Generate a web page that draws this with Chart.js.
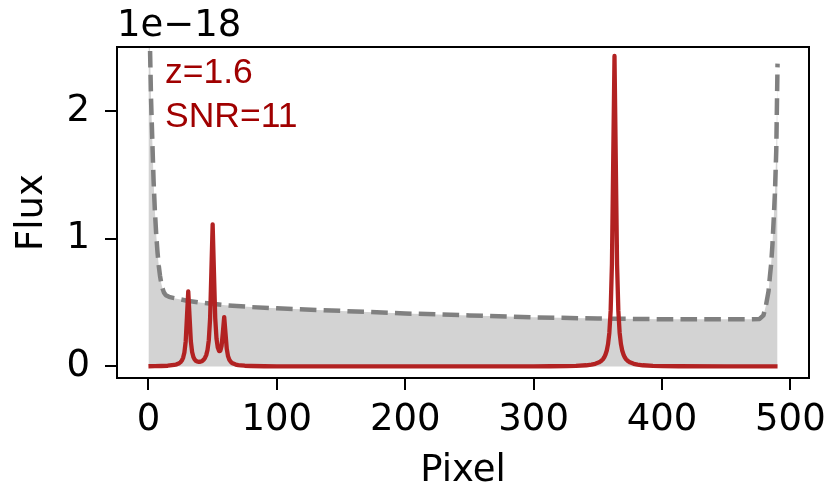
<!DOCTYPE html>
<html>
<head>
<meta charset="utf-8">
<script src="https://cdn.jsdelivr.net/npm/chart.js@4.4.1/dist/chart.umd.min.js"></script>
<style>
  html, body { margin: 0; padding: 0; background: #fff; }
  #wrap { width: 840px; height: 487px; }
</style>
</head>
<body>
<div id="wrap"><canvas id="c" width="840" height="487"></canvas></div>
<script>
// Flux values are in units of 1e-18.

// Noise level along the detector
const noisePixel = [0, 1, 2, 3, 4, 5, 6, 7, 8, 9, 10, 11, 12, 13, 14, 16, 20, 30, 40, 60, 80, 100,
  150, 200, 250, 300, 350, 400, 450, 470, 476, 479, 481, 483, 484, 485, 486, 487, 488, 489, 490];
const noiseFlux = [3.4, 2.6, 2.1, 1.77, 1.45, 1.22, 1.04, 0.9, 0.79, 0.71, 0.65, 0.61, 0.58, 0.565, 0.555,
  0.545, 0.535, 0.515, 0.5, 0.48, 0.465, 0.455, 0.435, 0.415, 0.4, 0.385, 0.375, 0.37, 0.37, 0.37,
  0.372, 0.4, 0.48, 0.59, 0.7, 0.8, 0.95, 1.15, 1.37, 1.69, 2.37];

// Emission-line spectrum
const specPixel = [0, 5, 10, 15, 20, 22, 24, 25, 26, 27, 28, 29, 30, 31, 32, 33, 34, 35, 36, 37, 38, 39,
  40, 41, 42, 43, 44, 45, 46, 47, 48, 49, 50, 51, 52, 53, 54, 55, 56, 57, 58, 59, 60, 61, 62, 63, 64,
  65, 66, 68, 70, 72, 75, 80, 90, 100, 120, 150, 200, 250, 300, 313, 326, 333, 341, 345, 348, 351,
  352, 353, 354, 355, 356, 357, 358, 359, 360, 361, 362, 363, 364, 365, 366, 367, 368, 369, 370, 371,
  372, 373, 374, 375, 378, 381, 385, 393, 400, 413, 450, 490];
const specFlux = [0.002, 0.003, 0.004, 0.006, 0.012, 0.017, 0.026, 0.034, 0.047, 0.068, 0.109, 0.196,
  0.39, 0.587, 0.392, 0.199, 0.113, 0.074, 0.054, 0.044, 0.039, 0.037,
  0.037, 0.039, 0.044, 0.053, 0.067, 0.089, 0.129, 0.206, 0.372, 0.738, 1.112, 0.742, 0.379, 0.218,
  0.148, 0.121, 0.123, 0.163, 0.272, 0.387, 0.26, 0.137, 0.08, 0.053, 0.038,
  0.029, 0.023, 0.015, 0.011, 0.009, 0.006, 0.004, 0.002, 0.0013, 0.0008, 0.0004, 0.0003, 0.0005,
  0.0014, 0.0019, 0.0034, 0.0053, 0.0097, 0.015, 0.021, 0.033,
  0.039, 0.047, 0.057, 0.072, 0.094, 0.125, 0.177, 0.265, 0.435, 0.799, 1.609, 2.43, 1.609, 0.799,
  0.435, 0.265, 0.177, 0.125, 0.094, 0.072,
  0.057, 0.047, 0.039, 0.033, 0.021, 0.015, 0.0097, 0.0053, 0.0034, 0.0019, 0.0006, 0.0003];

const xTicks = [0, 100, 200, 300, 400, 500];
const yTicks = [0, 1, 2];
const noteLines = ['z=1.6', 'SNR=11'];
const yOffsetText = '1e\u221218';

const toPoints = (xs, ys) => xs.map((x, i) => ({ x: x, y: ys[i] }));

const AXIS_FONT = { family: 'DejaVu Sans', size: 37, lineHeight: 1.2 };

// Axes frame, exponent label and annotation text
const decorations = {
  id: 'decorations',
  afterDatasetsDraw(chart) {
    const { ctx, chartArea: a } = chart;
    ctx.save();
    ctx.strokeStyle = '#000';
    ctx.lineWidth = 2;
    ctx.strokeRect(a.left, a.top, a.right - a.left, a.bottom - a.top);
    ctx.restore();
  },
  afterDraw(chart) {
    const { ctx, chartArea: a } = chart;
    ctx.save();
    ctx.fillStyle = '#000';
    ctx.font = '37px "DejaVu Sans"';
    ctx.textAlign = 'left';
    ctx.textBaseline = 'alphabetic';
    ctx.fillText(yOffsetText, a.left, a.top - 11);

    ctx.fillStyle = '#a00000';
    ctx.font = '35.5px "Liberation Sans", Arial, sans-serif';
    noteLines.forEach((t, i) => {
      ctx.fillText(t, a.left + 48, a.top + 36 + i * 43.5);
    });
    ctx.restore();
  }
};

new Chart(document.getElementById('c'), {
  type: 'line',
  data: {
    datasets: [
      {
        label: 'spectrum',
        data: toPoints(specPixel, specFlux),
        borderColor: '#b22222',
        borderWidth: 4.3,
        borderJoinStyle: 'round',
        borderCapStyle: 'butt',
        pointRadius: 0,
        fill: false,
        tension: 0,
        order: 0
      },
      {
        label: 'noise',
        data: toPoints(noisePixel, noiseFlux),
        borderColor: '#808080',
        borderWidth: 4.5,
        borderDash: [16.6, 7.2],
        borderCapStyle: 'butt',
        borderJoinStyle: 'round',
        backgroundColor: '#d3d3d3',
        fill: 'origin',
        pointRadius: 0,
        tension: 0,
        order: 1
      }
    ]
  },
  options: {
    responsive: false,
    animation: false,
    devicePixelRatio: 1,
    layout: { padding: { top: 47, right: 31, left: 0, bottom: 0 } },
    plugins: {
      legend: { display: false },
      tooltip: { enabled: false },
      filler: { propagate: false }
    },
    scales: {
      x: {
        type: 'linear',
        min: -24.5,
        max: 514.5,
        afterFit: s => { s.height = 109; },
        afterBuildTicks: s => { s.ticks = xTicks.map(v => ({ value: v })); },
        border: { display: false },
        grid: { drawOnChartArea: false, drawTicks: true, tickLength: 12, color: '#000', lineWidth: 2 },
        ticks: { font: AXIS_FONT, color: '#000', padding: 8, maxRotation: 0, autoSkip: false,
                 callback: v => String(v) },
        title: { display: true, text: 'Pixel', color: '#000',
                 font: { family: 'DejaVu Sans', size: 37, lineHeight: 0.85 }, padding: { top: 0, bottom: 0 } }
      },
      y: {
        type: 'linear',
        min: -0.09,
        max: 2.5,
        afterFit: s => { s.width = 117; },
        afterBuildTicks: s => { s.ticks = yTicks.map(v => ({ value: v })); },
        border: { display: false },
        grid: { drawOnChartArea: false, drawTicks: true, tickLength: 12, color: '#000', lineWidth: 2 },
        ticks: { font: AXIS_FONT, color: '#000', padding: 15, autoSkip: false,
                 callback: v => String(v) },
        title: { display: true, text: 'Flux', color: '#000',
                 font: { family: 'DejaVu Sans', size: 37, lineHeight: 1.2 }, padding: { top: 10, bottom: 0 } }
      }
    }
  },
  plugins: [decorations]
});
</script>
</body>
</html>
